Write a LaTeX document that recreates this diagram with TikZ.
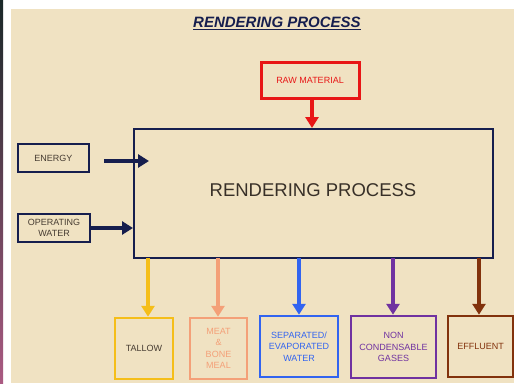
\documentclass[tikz,border=0pt]{standalone}
\usepackage{fontspec}
\setmainfont{Liberation Sans}
\usetikzlibrary{arrows.meta}
\definecolor{bg}{RGB}{240,226,194}
\definecolor{navy}{RGB}{22,30,78}
\definecolor{rawred}{RGB}{232,22,22}
\definecolor{tallowc}{RGB}{245,190,25}
\definecolor{meatc}{RGB}{244,160,120}
\definecolor{bluec}{RGB}{50,100,240}
\definecolor{purplec}{RGB}{112,50,160}
\definecolor{brownc}{RGB}{130,50,12}
\definecolor{txtgray}{RGB}{70,60,50}
\tikzset{
  box/.style={draw, line width=2.5pt, inner sep=0pt, align=center, font=\fontsize{9}{11.5}\selectfont},
  arr/.style={line width=4.5pt, -{Triangle[width=13pt,length=11pt]}},
}
\begin{document}
\begin{tikzpicture}[x=1pt,y=-1pt]
\useasboundingbox (0,0) rectangle (514,383);
\fill[white] (0,0) rectangle (514,383);
\shade[top color={rgb,255:red,25;green,40;blue,40}, bottom color={rgb,255:red,170;green,90;blue,130}] (0,0) rectangle (3,383);
\fill[bg] (11,9) rectangle (514,383);
% title
\node (title) at (277,23) {\fontsize{15}{17}\selectfont\bfseries\itshape\color{navy}\underline{RENDERING PROCESS}};
% main
\node[draw=navy, line width=2pt, minimum width=359pt, minimum height=129pt, inner sep=0pt] (main) at (313.5,193.5) {};
\node[font=\fontsize{18.5}{20}\selectfont, text=txtgray!80!black] (maintext) at (313,190) {RENDERING PROCESS};
% raw
\node[box, draw=rawred, line width=3pt, minimum width=98pt, minimum height=36pt, text=rawred] (raw) at (310,80) {RAW MATERIAL};
% inputs
\node[box, draw=navy, minimum width=71pt, minimum height=28pt, text=txtgray] (energy) at (53.5,158) {ENERGY};
\node[box, draw=navy, minimum width=72pt, minimum height=28pt, text=txtgray] (water) at (54,228) {OPERATING\\WATER};
% outputs
\node[box, draw=tallowc, minimum width=58pt, minimum height=61pt, text=txtgray] (tallow) at (144,348.5) {TALLOW};
\node[box, draw=meatc, minimum width=57pt, minimum height=61pt, text=meatc] (meat) at (218.5,348.5) {MEAT\\\&\\BONE\\MEAL};
\node[box, draw=bluec, minimum width=78pt, minimum height=61pt, text=bluec] (sep) at (299,346.5) {SEPARATED/\\EVAPORATED\\WATER};
\node[box, draw=purplec, minimum width=85pt, minimum height=62pt, text=purplec] (gas) at (393.5,347) {NON\\CONDENSABLE\\GASES};
\node[box, draw=brownc, minimum width=65pt, minimum height=61pt, text=brownc] (eff) at (480.5,346.5) {EFFLUENT};
% arrows
\coordinate (rawtop) at (312,98);
\draw[arr, rawred] (rawtop) -- (rawtop |- main.north);
\coordinate (es) at (104,161);
\coordinate (ee) at (149,161);
\draw[arr, navy] (es) -- (ee);
\draw[arr, navy] (water.east) -- (main.west |- water.east);
\coordinate (t1) at (148,258);
\draw[arr, tallowc] (t1) -- (t1 |- tallow.north);
\coordinate (t2) at (218,258);
\draw[arr, meatc] (t2) -- (t2 |- meat.north);
\coordinate (t3) at (299,258);
\draw[arr, bluec] (t3) -- (t3 |- sep.north);
\coordinate (t4) at (393,258);
\draw[arr, purplec] (t4) -- (t4 |- gas.north);
\coordinate (t5) at (479,258);
\draw[arr, brownc] (t5) -- (t5 |- eff.north);
\end{tikzpicture}
\end{document}
